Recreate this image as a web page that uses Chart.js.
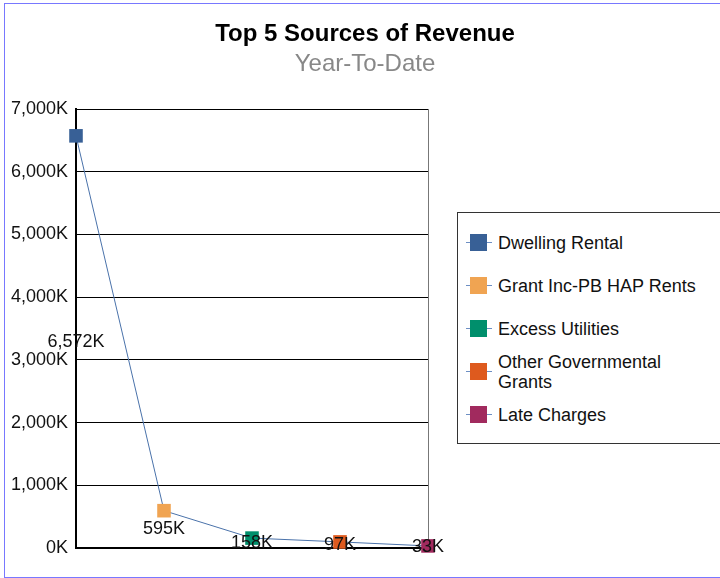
<!DOCTYPE html>
<html lang="en">

<head>
    <meta charset="UTF-8" />
    <title>Top 5 Sources of Revenue</title>
    <script src="https://cdn.jsdelivr.net/npm/chart.js"></script>
    <style>
        body {
            margin: 0;
            background: white;
            font-family: "Liberation Sans", Arial, sans-serif;
            overflow: hidden;
        }

        .frame {
            position: absolute;
            left: 4px;
            top: 3px;
            width: 760px;
            height: 573px;
            border: 1px solid #7878ff;
        }

        #revenueChart {
            position: absolute;
            left: 0;
            top: 0;
        }

        #legend {
            position: absolute;
            left: 452px;
            top: 208px;
            width: 300px;
            height: 222px;
            padding: 8px 0 0 0;
            border: 1px solid #333;
            background: white;
        }

        .item {
            display: flex;
            align-items: center;
            height: 43px;
            font-size: 18px;
            line-height: 20px;
            color: #111;
        }

        .swatch {
            position: relative;
            width: 26px;
            height: 17px;
            margin-left: 8px;
            margin-right: 6px;
            flex: none;
        }

        .swatch::before {
            content: "";
            position: absolute;
            left: 0;
            right: 0;
            top: 8px;
            height: 1px;
            background: #6d8fc4;
        }

        .swatch span {
            position: absolute;
            left: 4px;
            top: 0;
            width: 17px;
            height: 17px;
        }

        .label {
            width: 205px;
        }
    </style>
</head>

<body>
    <div class="frame">
        <canvas id="revenueChart" width="720" height="573"></canvas>
        <div id="legend"></div>
    </div>

    <script>
        // revenue sources, values in thousands
        const sources = ["Dwelling Rental", "Grant Inc-PB HAP Rents", "Excess Utilities", "Other Governmental Grants", "Late Charges"];
        const revenueK = [6572, 595, 158, 97, 33];
        const pointColors = ["#386096", "#f0a452", "#008f6c", "#de5a1e", "#a12a5e"];
        const yTicks = [0, 1000, 2000, 3000, 4000, 5000, 6000, 7000];

        const fontFamily = '"Liberation Sans", Arial, sans-serif';

        function fmtK(v) {
            return v.toLocaleString("en-US") + "K";
        }

        // value labels sit halfway between the axis and the point
        const midLabels = {
            id: "midLabels",
            afterDatasetsDraw(chart) {
                const ctx = chart.ctx;
                const meta = chart.getDatasetMeta(0);
                const yScale = chart.scales.y;
                ctx.save();
                ctx.font = "18px " + fontFamily;
                ctx.fillStyle = "#111";
                ctx.textAlign = "center";
                ctx.textBaseline = "middle";
                meta.data.forEach(function (pt, i) {
                    const v = revenueK[i];
                    ctx.fillText(fmtK(v), pt.x, yScale.getPixelForValue(v / 2));
                });
                ctx.restore();
            }
        };

        new Chart(document.getElementById("revenueChart"), {
            type: "line",
            data: {
                labels: sources,
                datasets: [{
                    data: revenueK,
                    borderColor: "#4a72aa",
                    borderWidth: 1,
                    tension: 0,
                    fill: false,
                    clip: false,
                    pointStyle: "rect",
                    pointRadius: 9.6,
                    pointHoverRadius: 9.6,
                    pointBorderWidth: 0,
                    pointBackgroundColor: pointColors,
                    pointBorderColor: pointColors
                }]
            },
            options: {
                responsive: false,
                animation: false,
                layout: { padding: { bottom: 29 } },
                plugins: {
                    legend: { display: false },
                    tooltip: { enabled: false },
                    title: {
                        display: true,
                        text: "Top 5 Sources of Revenue",
                        color: "#000",
                        font: { family: fontFamily, size: 24, weight: "bold" },
                        padding: { top: 16, bottom: 1 }
                    },
                    subtitle: {
                        display: true,
                        text: "Year-To-Date",
                        color: "#888",
                        font: { family: fontFamily, size: 24 },
                        padding: { top: 0, bottom: 30.4 }
                    }
                },
                scales: {
                    x: {
                        offset: false,
                        ticks: { display: false },
                        grid: {
                            drawTicks: false,
                            lineWidth: 1,
                            color: function (c) {
                                return c.index === sources.length - 1 ? "#777" : "rgba(0,0,0,0)";
                            }
                        },
                        border: { display: true, color: "#000", width: 2 }
                    },
                    y: {
                        min: 0,
                        max: 7000,
                        afterBuildTicks: function (scale) {
                            scale.ticks = yTicks.map(function (v) { return { value: v }; });
                        },
                        afterFit: function (scale) {
                            scale.width = 71;
                        },
                        ticks: {
                            color: "#111",
                            padding: 8,
                            font: { family: fontFamily, size: 18 },
                            callback: function (v) { return fmtK(v); }
                        },
                        grid: { drawTicks: false, color: "#000", lineWidth: 1 },
                        border: { display: true, color: "#000", width: 2 }
                    },
                    // empty right-hand scale reserves the room the legend box sits in
                    side: {
                        type: "linear",
                        position: "right",
                        ticks: { display: false },
                        grid: { display: false },
                        border: { display: false },
                        afterFit: function (scale) {
                            scale.width = 297;
                        }
                    }
                }
            },
            plugins: [midLabels]
        });

        // legend built from the same categories and colours
        const legend = document.getElementById("legend");
        sources.forEach(function (name, i) {
            const row = document.createElement("div");
            row.className = "item";
            row.innerHTML = '<div class="swatch"><span style="background:' + pointColors[i] + '"></span></div>' +
                '<div class="label">' + name + '</div>';
            legend.appendChild(row);
        });
    </script>
</body>

</html>
